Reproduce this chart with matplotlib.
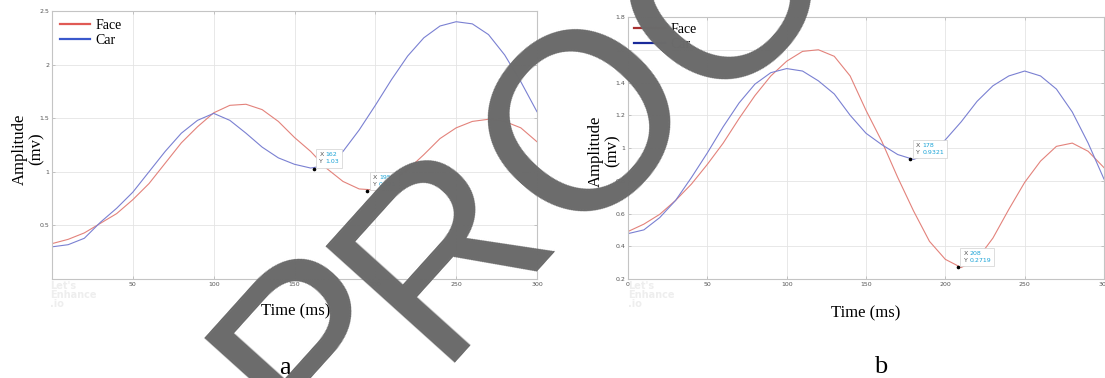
import matplotlib
matplotlib.use('Agg')
import matplotlib.pyplot as plt
from matplotlib.lines import Line2D

# ---- panel a data ----
t_a = [0, 10, 20, 30, 40, 50, 60, 70, 80, 90, 100, 110, 120, 130, 140, 150,
       160, 170, 180, 190, 200, 210, 220, 230, 240, 250, 260, 270, 280, 290, 300]
face_a = [0.33, 0.37, 0.43, 0.52, 0.61, 0.74, 0.89, 1.08, 1.27, 1.42, 1.55, 1.62,
          1.63, 1.58, 1.47, 1.32, 1.19, 1.03, 0.91, 0.84, 0.83, 0.91, 1.02, 1.16,
          1.31, 1.41, 1.47, 1.49, 1.47, 1.41, 1.28]
car_a = [0.30, 0.32, 0.38, 0.53, 0.66, 0.81, 1.00, 1.19, 1.36, 1.48, 1.545, 1.48,
         1.36, 1.23, 1.13, 1.07, 1.035, 1.06, 1.19, 1.39, 1.62, 1.86, 2.08, 2.25,
         2.36, 2.40, 2.38, 2.28, 2.09, 1.84, 1.56]
tips_a = [(162, '1.03', 1.03), (195, '0.821', 0.821)]

# ---- panel b data ----
t_b = t_a
face_b = [0.49, 0.535, 0.595, 0.68, 0.78, 0.90, 1.03, 1.18, 1.32, 1.44, 1.53, 1.59,
          1.60, 1.56, 1.44, 1.23, 1.04, 0.82, 0.615, 0.43, 0.32, 0.27, 0.32, 0.45,
          0.625, 0.79, 0.92, 1.01, 1.03, 0.98, 0.88]
car_b = [0.477, 0.50, 0.575, 0.68, 0.82, 0.97, 1.13, 1.275, 1.39, 1.46, 1.485, 1.47,
         1.41, 1.33, 1.20, 1.09, 1.02, 0.96, 0.93, 0.97, 1.05, 1.16, 1.285, 1.38,
         1.44, 1.47, 1.44, 1.36, 1.22, 1.03, 0.81]
tips_b = [(178, '0.9321', 0.9321), (208, '0.2719', 0.2719)]

xticks = [0, 50, 100, 150, 200, 250, 300]
yticks_a = [0, 0.5, 1, 1.5, 2, 2.5]
yticks_b = [0.2, 0.4, 0.6, 0.8, 1, 1.2, 1.4, 1.6, 1.8]

# watermark letters and their centres in pixels
wm_letters = ['P', 'R', 'O', 'O', 'F']
wm_centres = [(301, 330), (427, 234), (573, 108), (714, -24), (835, -140)]

serif = 'Liberation Serif'
W, H = 1105, 378

fig = plt.figure(figsize=(11.05, 3.78), dpi=100)
ax_a = fig.add_axes([52/W, 1-279/H, 485/W, 268/H])
ax_b = fig.add_axes([628/W, 1-279/H, 476/W, 262/H])


def style_axes(ax):
    ax.grid(True, color='#e4e4e4', lw=0.6)
    ax.set_axisbelow(True)
    for s in ax.spines.values():
        s.set_color('#c4c4c4')
        s.set_linewidth(0.8)
    ax.tick_params(direction='in', length=2, width=0.5, colors='#b0b0b0',
                   labelsize=4.5, labelcolor='#555555', right=True, top=True, pad=2)


def add_tip(ax, x, ylab, y):
    ax.plot([x], [y], 'o', color='black', ms=1.6, zorder=5)
    ax.annotate('X ' + str(x) + '\nY ' + ylab, (x, y), xytext=(4, 3),
                textcoords='offset points', fontsize=4.5, color=(0, 0, 0, 0),
                ha='left', va='bottom', linespacing=1.5, zorder=6,
                bbox=dict(boxstyle='square,pad=0.5', fc='white', ec='#d0d0d0', lw=0.5))
    ax.annotate('X\nY', (x, y), xytext=(4, 3), textcoords='offset points',
                fontsize=4.5, color='#555555', ha='left', va='bottom',
                linespacing=1.5, zorder=7)
    ax.annotate(str(x) + '\n' + ylab, (x, y), xytext=(8.5, 3), textcoords='offset points',
                fontsize=4.5, color='#1aa3d6', ha='left', va='bottom',
                linespacing=1.5, zorder=7)


# panel a
ax_a.plot(t_a, face_a, color='#e3827b', lw=0.8)
ax_a.plot(t_a, car_a, color='#7a80d2', lw=0.8)
ax_a.set_xlim(0, 300)
ax_a.set_ylim(0, 2.5)
ax_a.set_xticks(xticks)
ax_a.set_xticklabels([''] + [str(v) for v in xticks[1:]])
ax_a.set_yticks(yticks_a)
ax_a.set_yticklabels(['', '0.5', '1', '1.5', '2', '2.5'])
style_axes(ax_a)
for x, lab, y in tips_a:
    add_tip(ax_a, x, lab, y)
h_a = [Line2D([], [], color='#e05a55', lw=1.6), Line2D([], [], color='#3a58cc', lw=1.6)]
ax_a.legend(h_a, ['Face', 'Car'], loc='upper left', frameon=False,
            prop={'family': serif, 'size': 10}, handlelength=2.2, handletextpad=0.4,
            labelspacing=0.15, borderaxespad=0.15)

# panel b
ax_b.plot(t_b, face_b, color='#e3827b', lw=0.8)
ax_b.plot(t_b, car_b, color='#7a80d2', lw=0.8)
ax_b.set_xlim(0, 300)
ax_b.set_ylim(0.2, 1.8)
ax_b.set_xticks(xticks)
ax_b.set_yticks(yticks_b)
ax_b.set_yticklabels(['0.2', '0.4', '0.6', '0.8', '1', '1.2', '1.4', '1.6', '1.8'])
style_axes(ax_b)
for x, lab, y in tips_b:
    add_tip(ax_b, x, lab, y)
h_b = [Line2D([], [], color='#a83030', lw=1.6), Line2D([], [], color='#1a2a9a', lw=1.6)]
ax_b.legend(h_b, ['Face', 'Car'], loc='upper left', frameon=False,
            prop={'family': serif, 'size': 10}, handlelength=2.2, handletextpad=0.4,
            labelspacing=0.15, borderaxespad=0.05)

# axis titles
fig.text(28/W, 1-149/H, 'Amplitude\n(mv)', rotation=90, ha='center', va='center',
         family=serif, fontsize=12, linespacing=1.1)
fig.text(604/W, 1-151/H, 'Amplitude\n(mv)', rotation=90, ha='center', va='center',
         family=serif, fontsize=12, linespacing=1.1)
fig.text(296/W, 1-311/H, 'Time (ms)', ha='center', va='center', family=serif, fontsize=12)
fig.text(866/W, 1-313/H, 'Time (ms)', ha='center', va='center', family=serif, fontsize=12)
fig.text(285/W, 1-368/H, 'a', ha='center', va='center', family=serif, fontsize=19)
fig.text(881/W, 1-367/H, 'b', ha='center', va='center', family=serif, fontsize=19)

# faint "Let's Enhance .io" marks
for lx in (50, 628):
    fig.text(lx/W, 1-295/H, "Let's\nEnhance\n.io", ha='left', va='center',
             fontsize=7, color='#eeeeee', fontweight='bold', linespacing=0.9)

# PROOF watermark, letter by letter
for ch, (cx, cy) in zip(wm_letters, wm_centres):
    fig.text(cx/W, 1-cy/H, ch, rotation=48, rotation_mode='anchor',
             ha='center', va='center_baseline', family='Liberation Sans',
             fontsize=182, color='#6b6b6b', zorder=20)

fig.savefig('out.png', dpi=100)
